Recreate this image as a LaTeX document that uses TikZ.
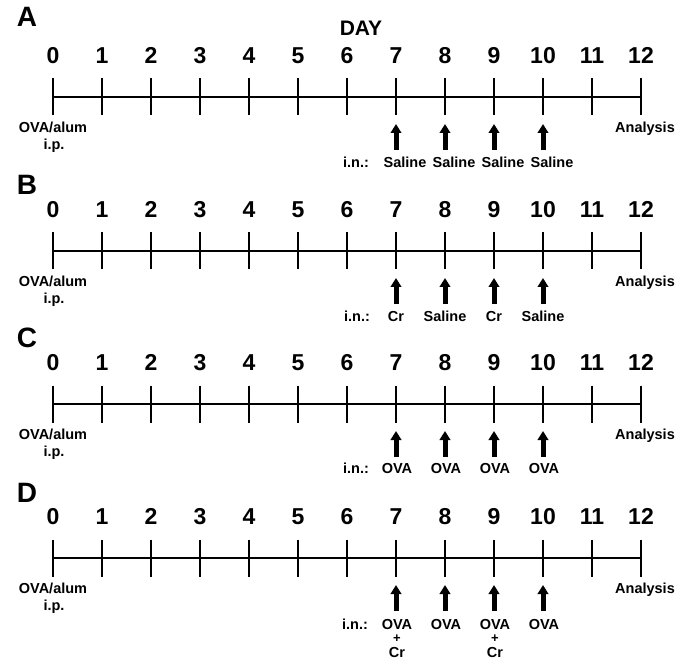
\documentclass[tikz,border=0pt]{standalone}
\usepackage{fontspec}
\setmainfont{Liberation Sans}
\usetikzlibrary{arrows.meta}

% one timeline: #1 = name prefix, #2 = axis height, #3 = panel letter, #4 = letter height
\newcommand\drawtimeline[4]{%
  \node[paneltag] (#1-tag) at (27,#4) {#3};
  \foreach \d in {0,...,12} {
    \node[daynum] (#1-n\d) at (53+49*\d,#2-37) {\d};
    \coordinate (#1-t\d) at (53+49*\d,#2);
    \coordinate (#1-u\d) at (53+49*\d,#2-18.5);
    \coordinate (#1-l\d) at (53+49*\d,#2+18.5);
    \draw[tickmark] (#1-u\d) -- (#1-l\d);
  }
  \draw[axisline] (#1-t0) -- (#1-t12);
  \node[lbl] (#1-sens) at (53,#2+32) {OVA/alum};
  \node[lbl] (#1-ip) at (54,#2+49) {i.p.};
  \node[lbl] (#1-an) at (645,#2+32) {Analysis};
  \foreach \d in {7,...,10} {
    \coordinate (#1-s\d) at (53+49*\d,#2+53);
    \coordinate (#1-h\d) at (53+49*\d,#2+27);
    \draw[dose] (#1-s\d) -- (#1-h\d);
  }
}

\begin{document}
\begin{tikzpicture}[x=1pt,y=-1pt,
  axisline/.style={line width=1.8pt},
  tickmark/.style={line width=1.6pt},
  dose/.style={line width=5pt,-{Triangle[length=9pt,width=10.5pt]}},
  paneltag/.style={font=\fontsize{28}{30}\selectfont\bfseries,text height=0.716em,text depth=0pt,inner sep=0pt},
  daynum/.style={font=\fontsize{23}{26}\selectfont\bfseries,text height=0.716em,text depth=0pt,inner sep=0pt},
  daytitle/.style={font=\fontsize{21}{24}\selectfont\bfseries,text height=0.716em,text depth=0pt,inner sep=0pt},
  lbl/.style={font=\fontsize{14.5}{16}\selectfont\bfseries,text height=0.716em,text depth=0pt,inner sep=0pt},
  plus/.style={font=\fontsize{13}{14}\selectfont\bfseries,text height=0.55em,text depth=0pt,inner sep=0pt}
]
\useasboundingbox (0,0) rectangle (675,663);

\node[daytitle] (day) at (361,32) {DAY};

% A: saline controls
\drawtimeline{A}{97}{A}{23}
\node[lbl] (A-in) at (356,97+67) {i.n.:};
\foreach \d in {7,...,10}
  \node[lbl] (A-x\d) at (53+49*\d+9,97+67) {Saline};

% B: Cr alternating with saline
\drawtimeline{B}{251}{B}{191}
\node[lbl] (B-in) at (357,251+67) {i.n.:};
\node[lbl] (B-x7) at (396,251+67) {Cr};
\node[lbl] (B-x8) at (445,251+67) {Saline};
\node[lbl] (B-x9) at (494,251+67) {Cr};
\node[lbl] (B-x10) at (543,251+67) {Saline};

% C: OVA challenge
\drawtimeline{C}{404}{C}{344}
\node[lbl] (C-in) at (356,404+66) {i.n.:};
\foreach \d in {7,...,10}
  \node[lbl] (C-x\d) at (53+49*\d+1,404+66) {OVA};

% D: OVA with Cr on days 7 and 9
\drawtimeline{D}{558}{D}{499}
\node[lbl] (D-in) at (355,558+68) {i.n.:};
\foreach \d in {7,...,10}
  \node[lbl] (D-x\d) at (53+49*\d+1,558+68) {OVA};
\node[plus] (D-p7) at (397,558+82) {+};
\node[lbl] (D-c7) at (397,558+96) {Cr};
\node[plus] (D-p9) at (495,558+82) {+};
\node[lbl] (D-c9) at (495,558+96) {Cr};
\end{tikzpicture}
\end{document}
